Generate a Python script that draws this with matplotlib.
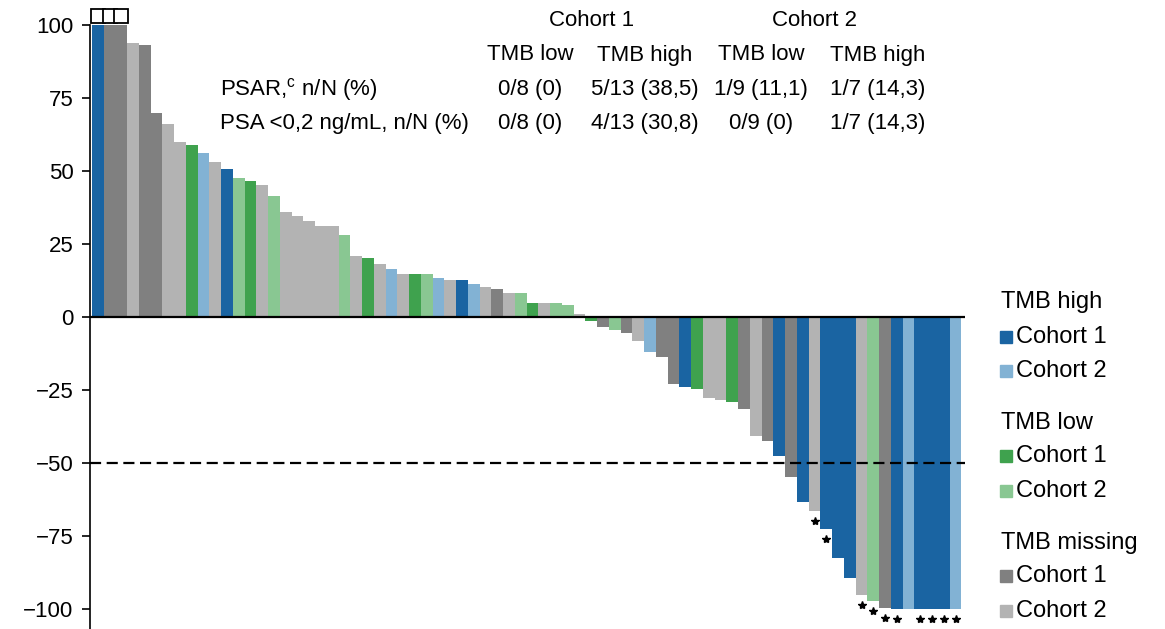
import matplotlib
matplotlib.use('Agg')
import matplotlib.pyplot as plt
from matplotlib.patches import Rectangle

plt.rcParams['font.family'] = ['Liberation Sans', 'DejaVu Sans']
plt.rcParams['mathtext.fontset'] = 'custom'
plt.rcParams['mathtext.rm'] = 'Liberation Sans'
plt.rcParams['axes.unicode_minus'] = True

# best change in PSA from baseline (%), one bar per patient, sorted
values = [100, 100, 100, 94, 93, 70, 66, 60, 59, 56,
          53, 50.5, 47.5, 46.7, 45.3, 41.3, 36, 34.4, 32.8, 31.2,
          31.2, 28, 21, 20.2, 18, 16.5, 14.8, 14.8, 14.6, 13.4,
          12.5, 12.5, 11.2, 10.3, 9.4, 8, 8, 4.7, 4.7, 4.7,
          4, 1.1, -1.4, -3.6, -4.6, -5.4, -8.2, -12.2, -13.7, -23,
          -23.9, -24.7, -27.9, -28.5, -29.3, -31.6, -41, -42.6, -47.8, -54.8,
          -63.4, -66.5, -72.8, -82.7, -89.6, -95.2, -97.5, -99.8, -100, -100,
          -100, -100, -100, -100]
# H = TMB high, L = TMB low, M = TMB missing; 1/2 = cohort
groups = ['H1', 'M1', 'M1', 'M2', 'M1', 'M1', 'M2', 'M2', 'L1', 'H2',
          'M2', 'H1', 'L2', 'L1', 'M2', 'L2', 'M2', 'M2', 'M2', 'M2',
          'M2', 'L2', 'M2', 'L1', 'M2', 'H2', 'M2', 'L1', 'L2', 'H2',
          'M2', 'H1', 'H2', 'M2', 'M1', 'M2', 'L2', 'L1', 'M2', 'L2',
          'L2', 'M2', 'L1', 'M1', 'L2', 'M1', 'M2', 'H2', 'M1', 'M1',
          'H1', 'L1', 'M2', 'M2', 'L1', 'M1', 'M2', 'M1', 'H1', 'M1',
          'H1', 'M2', 'H1', 'H1', 'H1', 'M2', 'L2', 'M1', 'H1', 'H2',
          'H1', 'H1', 'H1', 'H2']
star_idx = [61, 62, 65, 66, 67, 68, 70, 71, 72, 73]
capped_idx = [0, 1, 2]

colors = {'H1': '#1a64a2', 'H2': '#82b2d4', 'L1': '#3fa24e',
          'L2': '#89c792', 'M1': '#808080', 'M2': '#b3b3b3'}

col_heads = ['TMB low', 'TMB high', 'TMB low', 'TMB high']
row_labels = ['PSAR,$^{\\mathrm{c}}$ n/N (%)', 'PSA <0,2 ng/mL, n/N (%)']
row_psar = ['0/8 (0)', '5/13 (38,5)', '1/9 (11,1)', '1/7 (14,3)']
row_psa02 = ['0/8 (0)', '4/13 (30,8)', '0/9 (0)', '1/7 (14,3)']

W, H = 1165, 629
fig = plt.figure(figsize=(W / 100, H / 100), dpi=100)
ax = fig.add_axes([90 / W, 0, (965 - 90) / W, 1 - 25 / H])

x = list(range(len(values)))
ax.bar(x, values, width=1.0, color=[colors[g] for g in groups], linewidth=0)
ax.axhline(0, color='black', lw=1.6)
ax.axhline(-50, color='black', lw=1.6, ls=(0, (5, 2.5)))

ax.plot([x[i] for i in star_idx], [values[i] - 3.5 for i in star_idx], ls='none',
        marker='*', color='black', markersize=6, clip_on=False)
ax.plot([x[i] for i in capped_idx], [103.2] * len(capped_idx), ls='none', marker='s',
        markersize=9.5, markerfacecolor='white', markeredgecolor='black',
        markeredgewidth=1.3, clip_on=False)

ax.set_xlim(-0.67, 73.8)
ax.set_ylim(-107, 100)
ax.set_yticks([100, 75, 50, 25, 0, -25, -50, -75, -100])
ax.tick_params(axis='y', labelsize=16, length=6, width=1.2, pad=6)
ax.set_xticks([])
for s in ['top', 'right', 'bottom']:
    ax.spines[s].set_visible(False)
ax.spines['left'].set_linewidth(1.2)
ax.spines['left'].set_bounds(-107, 100)

# response table
def ft(px, py, s, fs=16, **kw):
    fig.text(px / W, 1 - py / H, s, fontsize=fs, va='center', **kw)

ft(592, 20, 'Cohort 1', ha='center')
ft(815, 20, 'Cohort 2', ha='center')
col_x = [530, 645, 761, 878]
for cx, h, a, b in zip(col_x, col_heads, row_psar, row_psa02):
    ft(cx, 55, h, ha='center')
    ft(cx, 90, a, ha='center')
    ft(cx, 124, b, ha='center')
ft(220, 90, row_labels[0], ha='left')
ft(220, 124, row_labels[1], ha='left')

# legend
legend_rows = [('TMB high', None, 302), ('Cohort 1', 'H1', 337), ('Cohort 2', 'H2', 371),
               ('TMB low', None, 423), ('Cohort 1', 'L1', 456), ('Cohort 2', 'L2', 491),
               ('TMB missing', None, 543), ('Cohort 1', 'M1', 576), ('Cohort 2', 'M2', 611)]
for label, key, py in legend_rows:
    if key is None:
        ft(1001, py, label, fs=17, ha='left')
    else:
        fig.patches.append(Rectangle((1000 / W, 1 - (py + 6) / H), 12 / W, 12 / H,
                                     transform=fig.transFigure, color=colors[key]))
        ft(1016, py, label, fs=17, ha='left')

fig.savefig('out.png', dpi=100)
